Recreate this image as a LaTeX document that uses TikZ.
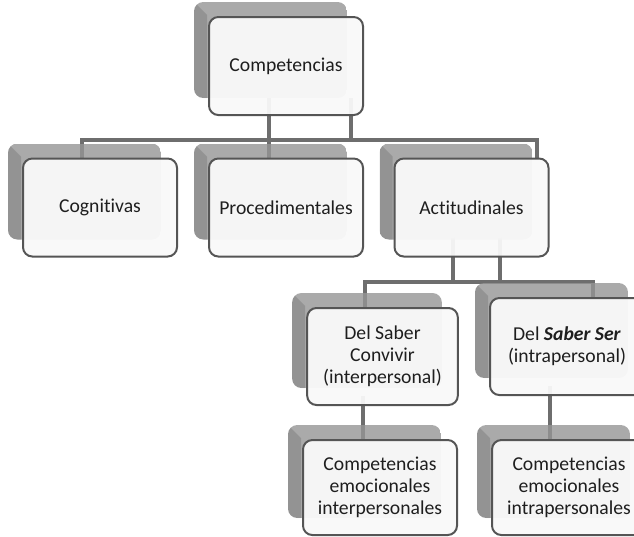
\documentclass[tikz,border=0pt]{standalone}
\usepackage{fontspec}
\setmainfont{Carlito}[Ligatures={NoCommon,NoRare}]
\usetikzlibrary{calc}
\pgfdeclarelayer{conn}
\pgfdeclarelayer{shad}
\pgfsetlayers{conn,shad,main}
\definecolor{lineC}{HTML}{6E6E6E}
\definecolor{shadC}{HTML}{959595}
\definecolor{edgeC}{HTML}{555555}
\definecolor{boxC}{HTML}{F9F9F9}
\definecolor{txtC}{HTML}{1E1E1E}
\tikzset{
  front/.style={draw=edgeC, line width=1.5pt, rounded corners=7pt, fill=boxC,
    fill opacity=0.95, text opacity=1, text=txtC, minimum width=115.5pt,
    minimum height=73.5pt, inner sep=0pt, align=center,
    font=\fontsize{14.75}{16.5}\selectfont},
  conline/.style={draw=lineC, line width=3pt},
  shadfill/.style={fill=shadC, fill opacity=0.8},
  bevel/.style={fill=black, fill opacity=0.13}
}
\begin{document}
\begin{tikzpicture}[x=0.75pt,y=-0.75pt]
\useasboundingbox (0,0) rectangle (634,536);
\clip (0,0) rectangle (634,536);
% front boxes
\node[front] (comp) at (286,66) {Competencias};
\node[front] (cog) at (100,207.5) {Cognitivas};
\node[front] (proc) at (286,207.5) {Procedimentales};
\node[front] (act) at (471.5,207.5) {Actitudinales};
\node[front, minimum width=113pt, minimum height=72.75pt] (conv) at (382.5,356.5) {Del Saber\\Convivir\\(interpersonal)};
\node[front, minimum height=72.75pt] (ser) at (567,346.5) {Del \textbf{\textit{Saber Ser}}\\(intrapersonal)};
\node[front, minimum height=71.25pt] (emoA) at (380,487.5) {Competencias\\emocionales\\interpersonales};
\node[front, minimum height=71.25pt] (emoB) at (569,487.5) {Competencias\\emocionales\\intrapersonales};
% shadows
\begin{pgfonlayer}{shad}
\foreach \n in {comp,cog,proc,act,conv,ser,emoA,emoB}{
  \coordinate (A) at ($(\n.north west)+(-14,-14)$);
  \coordinate (B) at ($(\n.south east)+(-17,-18)$);
  \begin{scope}
    \clip[rounded corners=7pt] (A) rectangle (B);
    \fill[shadfill] (A) rectangle (B);
    \fill[bevel] (A) -- ($(A)+(13,13)$) -- ($(A|-B)+(13,0)$) -- (A|-B) -- cycle;
  \end{scope}
}
\end{pgfonlayer}
% connectors
\begin{pgfonlayer}{conn}
\draw[conline] ($(comp.south)+(-17,-18)$) -- ($(proc.north)+(-17,0)$);
\draw[conline] ($(comp.south)+(65,-18)$) -- ($(comp.south)+(65,25)$);
\draw[conline] ($(cog.north)+(-18,0)$) |- ($(act.north)+(65.5,-18)$) -- ($(act.north)+(65.5,0)$);
\draw[conline] ($(act.south)+(-18.5,-20)$) -- ($(act.south)+(-18.5,26)$);
\draw[conline] ($(act.south)+(28.5,-20)$) -- ($(act.south)+(28.5,26)$);
\draw[conline] ($(conv.north)+(-17.5,0)$) |- ($(ser.north)+(26,-15)$) -- ($(ser.north)+(26,0)$);
\draw[conline] ($(conv.south)+(-19.5,-10)$) -- ($(emoA.north)+(-17,0)$);
\draw[conline] ($(ser.south)+(-17,-10)$) -- ($(emoB.north)+(-19,0)$);
\end{pgfonlayer}
\end{tikzpicture}
\end{document}
